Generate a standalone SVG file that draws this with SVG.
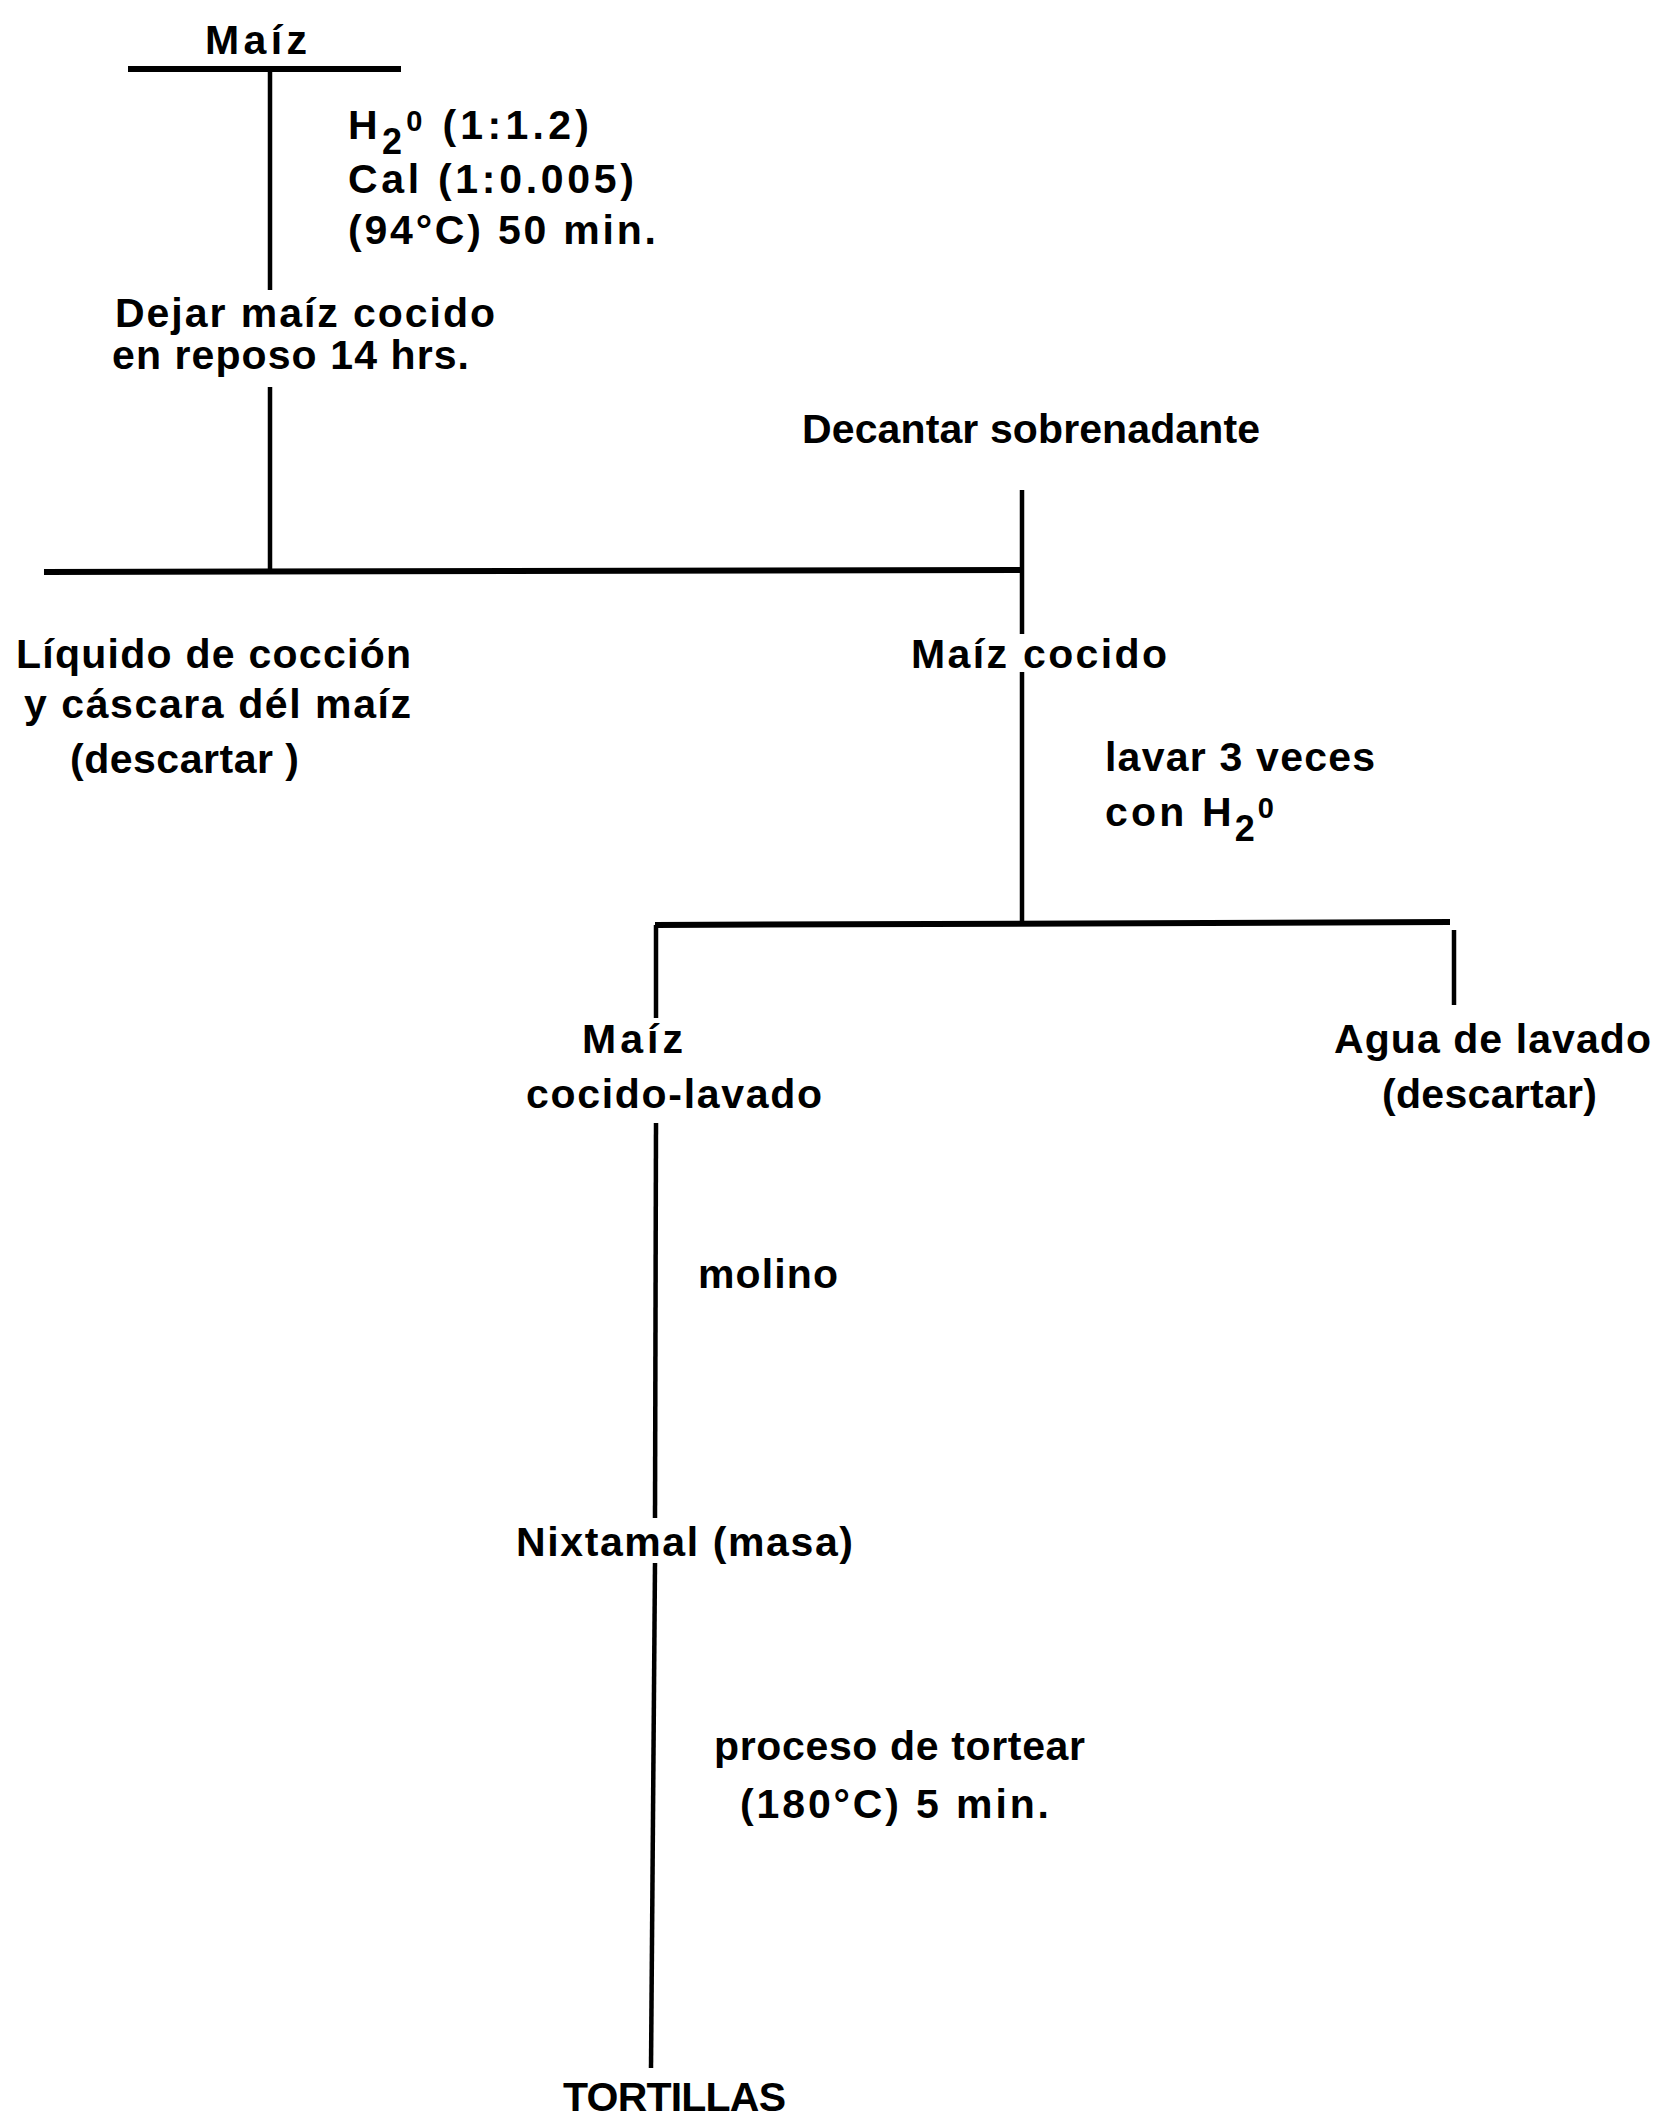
<svg xmlns="http://www.w3.org/2000/svg" width="1658" height="2114" viewBox="0 0 1658 2114">
<style>
text{font-family:"Liberation Sans",Arial,sans-serif;font-size:41px;font-weight:bold;fill:#000;}
.c{stroke:#000;fill:none;stroke-linecap:butt;}
.v{stroke-width:4.5;}
.h{stroke-width:6;}
.sub{font-size:36px;}
.sup{font-size:29px;}
</style>
<rect width="1658" height="2114" fill="#fff"/>
<g id="connectors">
<line class="c h" x1="128" y1="69" x2="401" y2="69"/>
<line class="c v" x1="270" y1="69" x2="270" y2="290"/>
<line class="c v" x1="270" y1="387" x2="270" y2="572"/>
<line class="c h" x1="44" y1="572" x2="1024" y2="570"/>
<line class="c v" x1="1022" y1="490" x2="1022" y2="634"/>
<line class="c v" x1="1022" y1="672" x2="1022" y2="924"/>
<line class="c h" x1="655" y1="925" x2="1450" y2="922"/>
<line class="c v" x1="656" y1="925" x2="656" y2="1018"/>
<line class="c v" x1="1454" y1="930" x2="1454" y2="1005"/>
<line class="c v" x1="656" y1="1123" x2="655" y2="1518"/>
<line class="c v" x1="655" y1="1563" x2="651" y2="2068"/>
</g>
<g id="n-maiz"><text x="205" y="54" textLength="102" lengthAdjust="spacing">Maíz</text></g>
<g id="l-coccion">
<text x="348" y="139" textLength="241" lengthAdjust="spacing">H<tspan class="sub" dy="15">2</tspan><tspan class="sup" dy="-23">0</tspan><tspan dy="8"> (1:1.2)</tspan></text>
<text x="348" y="193" textLength="286" lengthAdjust="spacing">Cal  (1:0.005)</text>
<text x="348" y="244" textLength="308" lengthAdjust="spacing">(94°C) 50 min.</text>
</g>
<g id="n-dejar">
<text x="115" y="327" textLength="380" lengthAdjust="spacing">Dejar maíz cocido</text>
<text x="112" y="369" textLength="357" lengthAdjust="spacing">en reposo 14 hrs.</text>
</g>
<g id="n-decantar"><text x="802" y="443" textLength="458" lengthAdjust="spacing">Decantar sobrenadante</text></g>
<g id="n-liquido">
<text x="16" y="668" textLength="395" lengthAdjust="spacing">Líquido de cocción</text>
<text x="24" y="718" textLength="387" lengthAdjust="spacing">y cáscara dél maíz</text>
<text x="70" y="773" textLength="229" lengthAdjust="spacing">(descartar )</text>
</g>
<g id="n-maiz-cocido"><text x="911" y="668" textLength="256" lengthAdjust="spacing">Maíz cocido</text></g>
<g id="l-lavar">
<text x="1105" y="771" textLength="270" lengthAdjust="spacing">lavar 3 veces</text>
<text x="1105" y="826" textLength="169" lengthAdjust="spacing">con H<tspan class="sub" dy="15">2</tspan><tspan class="sup" dy="-23">0</tspan></text>
</g>
<g id="n-maiz-lavado">
<text x="582" y="1053" textLength="101" lengthAdjust="spacing">Maíz</text>
<text x="526" y="1108" textLength="296" lengthAdjust="spacing">cocido-lavado</text>
</g>
<g id="n-agua">
<text x="1334" y="1053" textLength="317" lengthAdjust="spacing">Agua de lavado</text>
<text x="1382" y="1108" textLength="215" lengthAdjust="spacing">(descartar)</text>
</g>
<g id="l-molino"><text x="698" y="1288" textLength="140" lengthAdjust="spacing">molino</text></g>
<g id="n-nixtamal"><text x="516" y="1556" textLength="337" lengthAdjust="spacing">Nixtamal (masa)</text></g>
<g id="l-tortear">
<text x="714" y="1760" textLength="371" lengthAdjust="spacing">proceso de tortear</text>
<text x="740" y="1818" textLength="309" lengthAdjust="spacing">(180°C) 5 min.</text>
</g>
<g id="n-tortillas"><text x="563" y="2111" textLength="223" lengthAdjust="spacing">TORTILLAS</text></g>
</svg>
